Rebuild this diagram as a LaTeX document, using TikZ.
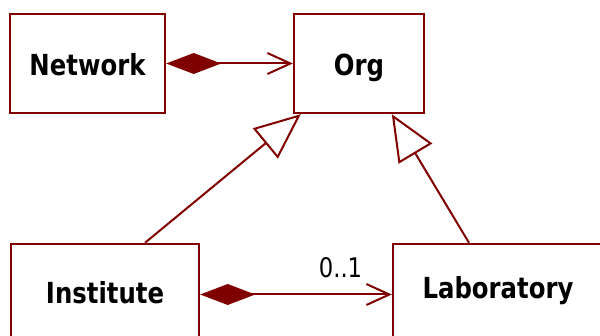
\documentclass[tikz,border=0pt]{standalone}
\usepackage{fontspec}
\newfontfamily\umlfont{DejaVu Sans}[FakeStretch=0.84]
\usetikzlibrary{arrows.meta,positioning}

\definecolor{umlred}{RGB}{128,0,0}

\tikzset{
	class/.style={draw=umlred, line width=2.4pt, fill=white, inner sep=0pt,
		font=\umlfont\bfseries\fontsize{29}{30}\selectfont, text height=25pt},
	assoc/.style={umlred, line width=2pt},
	compose/.style={assoc, {Diamond[length=55pt,width=21pt]}-{Straight Barb[length=23pt,width=21pt]}},
	inherit/.style={assoc, -{Triangle[open,length=46pt,width=39pt,fill=white]}},
	mult/.style={font=\umlfont\fontsize{27}{28}\selectfont}
}

\begin{document}
\begin{tikzpicture}[x=1pt,y=-1pt]
\useasboundingbox (0,0) rectangle (600,336);

% classes
\node[class, minimum width=155pt, minimum height=99pt, text depth=0pt] (Network) at (87.5,63.5) {Network};
\node[class, minimum width=130pt, minimum height=99pt, text depth=0pt] (Org) at (359,63.5) {Org};
\node[class, minimum width=188pt, minimum height=101pt, text depth=6pt] (Institute) at (105,294.5) {Institute};
\node[class, minimum width=210pt, minimum height=101pt, text depth=16pt] (Laboratory) at (498,294.5) {Laboratory};

% composition
\draw[compose] (Network) -- (Org);
\draw[compose] (Institute) -- (Laboratory);
\node[mult] (multLab) at (340.5,267.5) {0..1};

% generalisation
\coordinate (instTop) at ([xshift=40pt]Institute.north);
\coordinate (labTop) at ([xshift=-29pt]Laboratory.north);
\coordinate (orgLeft) at ([xshift=8pt]Org.south west);
\coordinate (orgRight) at ([xshift=99pt]Org.south west);
\draw[inherit] (instTop) -- (orgLeft);
\draw[inherit] (labTop) -- (orgRight);
\end{tikzpicture}
\end{document}
